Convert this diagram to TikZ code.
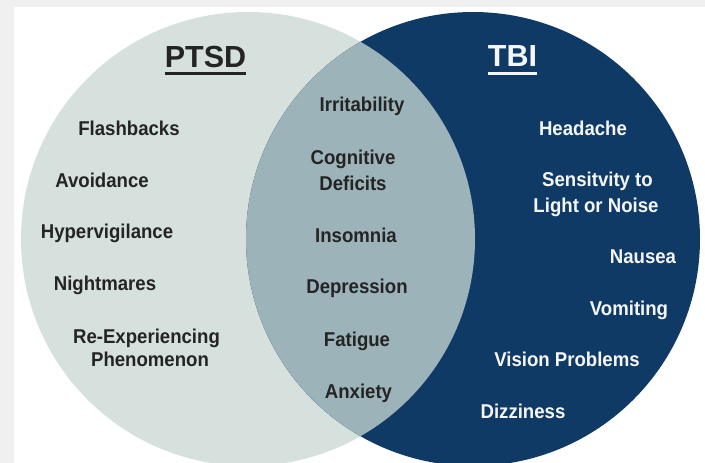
\documentclass[tikz,border=0pt]{standalone}
\usepackage{fontspec}
\setmainfont{Liberation Sans}
\newfontfamily\condfont{Liberation Sans}[FakeStretch=0.93]
\definecolor{frame}{HTML}{F0F0F0}
\definecolor{ptsdfill}{HTML}{D6E0DD}
\definecolor{lensfill}{HTML}{9DB3BA}
\definecolor{tbifill}{HTML}{103A66}
\definecolor{darktext}{HTML}{242424}
\definecolor{lighttext}{HTML}{F4F6F8}
\begin{document}
\begin{tikzpicture}[x=1pt,y=-1pt,
  item/.style={inner sep=0pt,anchor=base,font=\condfont\fontsize{20}{24}\selectfont\bfseries},
  lefttext/.style={item,text=darktext},
  righttext/.style={item,text=lighttext},
  titletext/.style={inner sep=0pt,anchor=base,font=\fontsize{30.5}{36}\selectfont\bfseries}]
\useasboundingbox (0,0) rectangle (705,463);
\fill[frame] (0,0) rectangle (705,463);
\fill[white] (14,7) rectangle (705,463);
\begin{scope}
\clip (0,0) rectangle (705,463);
\fill[ptsdfill] (248,239) circle[radius=227];
\fill[tbifill] (473,239) circle[radius=227];
\begin{scope}
\clip (248,239) circle[radius=227];
\fill[lensfill] (473,239) circle[radius=227];
\end{scope}
\end{scope}
% titles
\node[titletext,text=darktext] (ptsd) at (205.5,67) {PTSD};
\node[titletext,text=lighttext] (tbi) at (512.5,66) {TBI};
\draw[darktext,line width=3pt] ([yshift=-6.5pt]ptsd.base west) -- ([yshift=-6.5pt]ptsd.base east);
\draw[lighttext,line width=3pt] ([yshift=-7.5pt]tbi.base west) -- ([yshift=-7.5pt]tbi.base east);
% PTSD items
\node[lefttext] (flash) at (129,135.5) {Flashbacks};
\node[lefttext] (avoid) at (102,187) {Avoidance};
\node[lefttext] (hyper) at (107,238.5) {Hypervigilance};
\node[lefttext] (night) at (105,290.5) {Nightmares};
\node[lefttext] (reexpa) at (146.5,343) {Re-Experiencing};
\node[lefttext] (reexpb) at (150,366) {Phenomenon};
% shared items
\node[lefttext] (irrit) at (362,111.5) {Irritability};
\node[lefttext] (cogna) at (353,164) {Cognitive};
\node[lefttext] (cognb) at (353,190) {Deficits};
\node[lefttext] (insom) at (356,242) {Insomnia};
\node[lefttext] (depr) at (357,293.5) {Depression};
\node[lefttext] (fatig) at (357,346) {Fatigue};
\node[lefttext] (anx) at (358.5,398) {Anxiety};
% TBI items
\node[righttext] (head) at (583,135) {Headache};
\node[righttext] (sensa) at (597.5,186.5) {Sensitvity to};
\node[righttext] (sensb) at (596,212.7) {Light or Noise};
\node[righttext] (naus) at (643,263) {Nausea};
\node[righttext] (vomit) at (629,315) {Vomiting};
\node[righttext] (vision) at (567,366.5) {Vision Problems};
\node[righttext] (dizzy) at (523,418) {Dizziness};
\end{tikzpicture}
\end{document}
